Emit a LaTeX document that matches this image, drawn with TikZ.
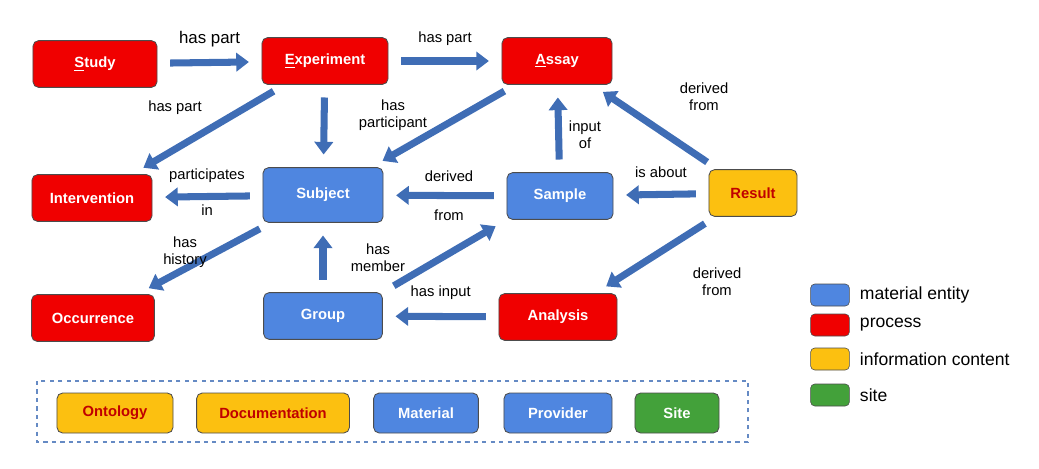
\documentclass[tikz,border=0pt]{standalone}
\usepackage{fontspec}
\setmainfont{Liberation Sans}
\usetikzlibrary{arrows.meta}
\definecolor{procred}{HTML}{F00000}
\definecolor{matblue}{HTML}{4F86E0}
\definecolor{infoyel}{HTML}{FCC010}
\definecolor{sitegreen}{HTML}{43A13A}
\definecolor{arrowblue}{HTML}{3F6DB5}
\definecolor{txtred}{HTML}{C00000}
\tikzset{
  box/.style={draw=black!70, rounded corners=4pt, minimum height=1.17cm, font=\fontsize{10.5}{12}\selectfont\bfseries, line width=0.6pt},
  process/.style={box, fill=procred, text=white},
  material/.style={box, fill=matblue, text=white},
  info/.style={box, fill=infoyel, text=txtred},
  site/.style={box, fill=sitegreen, text=white},
  rel/.style={line width=5pt, draw=arrowblue, -{Triangle[length=9pt,width=13pt]}, shorten <=9pt, shorten >=9pt},
  lbl/.style={font=\fontsize{10.5}{12}\selectfont, align=center},
  key/.style={draw=black!70, rounded corners=3pt, minimum width=0.97cm, minimum height=0.55cm}
}
\begin{document}
\begin{tikzpicture}[x=0.025cm, y=-0.025cm]
\useasboundingbox (0,0) rectangle (1039,468);

% Define nodes
\node[process, minimum width=3.1cm] (study) at (95,64) {\underline{S}tudy};
\node[process, minimum width=3.15cm] (experiment) at (325,61) {\underline{E}xperiment};
\node[process, minimum width=2.75cm] (assay) at (557,61) {\underline{A}ssay};
\node[process, minimum width=3.0cm] (intervention) at (92,198) {Intervention};
\node[material, minimum width=3.0cm, minimum height=1.37cm] (subject) at (323,195) {Subject};
\node[material, minimum width=2.65cm] (sample) at (560,196) {Sample};
\node[info, minimum width=2.2cm] (result) at (753,193) {Result};
\node[process, minimum width=3.07cm] (occurrence) at (93,318) {Occurrence};
\node[material, minimum width=2.97cm] (group) at (323,316) {Group};
\node[process, minimum width=2.95cm] (analysis) at (558,317) {Analysis};

% Connect the nodes
\draw[rel] (study) -- (experiment) node[midway, above=5pt, font=\fontsize{12}{14}\selectfont] {has part};
\draw[rel] (experiment) -- (assay) node[midway, above=5pt, lbl] {has part};
\draw[rel] (experiment) -- (intervention);
\node[lbl] (l-exp-int) at (175,108) {has part};
\draw[rel] (experiment) -- (subject);
\node[lbl] (l-exp-sub) at (393,115) {has\\participant};
\draw[rel] (assay) -- (subject);
\draw[rel] (sample) -- (assay);
\node[lbl] (l-sam-ass) at (585,135) {input\\of};
\draw[rel] (result) -- (assay);
\node[lbl] (l-res-ass) at (704,97) {derived\\from};
\draw[rel] (result) -- (sample) node[midway, above=6pt, lbl] {is about};
\draw[rel] (sample) -- (subject);
\node[lbl] (l-sam-sub1) at (449,176) {derived};
\node[lbl] (l-sam-sub2) at (449,215) {from};
\draw[rel] (subject) -- (intervention);
\node[lbl] (l-sub-int1) at (207,176) {participates};
\node[lbl] (l-sub-int2) at (207,210) {in};
\draw[rel] (subject) -- (occurrence);
\node[lbl] (l-sub-occ) at (185,252) {has\\history};
\draw[rel] (group) -- (subject);
\node[lbl] (l-grp-sub) at (378,258) {has\\member};
\draw[rel] (group.north east) -- (sample.south west);
\draw[rel] (analysis) -- (group) node[midway, above=6pt, lbl] {has input};
\draw[rel] (result) -- (analysis);
\node[lbl] (l-res-ana) at (717,282) {derived\\from};

% Resources
\draw[dashed, draw=arrowblue!80, line width=0.8pt] (37,381) rectangle (748,442);
\node[info, minimum width=2.9cm, minimum height=1.0cm] (ontology) at (115,413) {Ontology};
\node[info, minimum width=3.82cm, minimum height=1.0cm] (documentation) at (273,413) {Documentation};
\node[material, minimum width=2.62cm, minimum height=1.0cm] (material) at (426,413) {Material};
\node[material, minimum width=2.7cm, minimum height=1.0cm] (provider) at (558,413) {Provider};
\node[site, minimum width=2.1cm, minimum height=1.0cm] (site) at (677,413) {Site};

% Legend
\foreach \c/\t/\y in {matblue/material entity/295, procred/process/325, infoyel/information content/359, sitegreen/site/395}{
  \node[key, fill=\c] (key-\y) at (830,\y) {};
  \node[anchor=west, font=\fontsize{12.5}{14}\selectfont] at (855,\y) {\t};
}
\end{tikzpicture}
\end{document}
